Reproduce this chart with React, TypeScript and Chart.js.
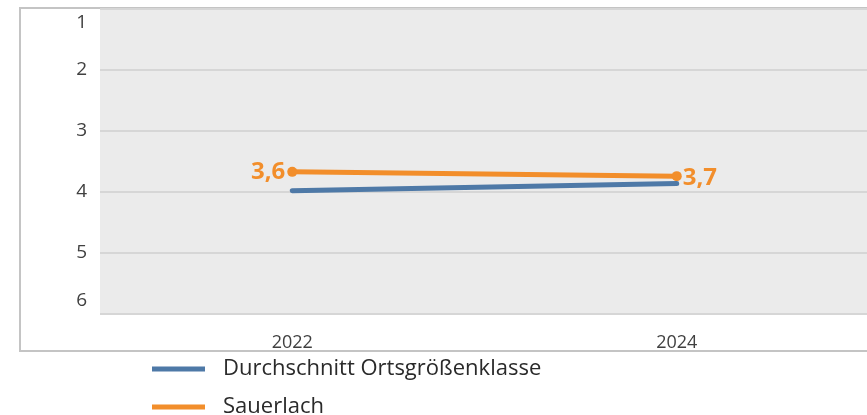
import React, { useEffect, useRef } from "react";
import { Chart, registerables } from "chart.js";

Chart.register(...registerables);

const categories = ["2022", "2024"];
const seriesNames = ["Durchschnitt Ortsgrößenklasse", "Sauerlach"];
const averageValues = [3.98, 3.86];
const sauerlachValues = [3.67, 3.74];
const sauerlachLabels = ["3,6", "3,7"];
const yTicks = [1, 2, 3, 4, 5, 6];

const BLUE = "#4E79A7";
const ORANGE = "#F28E2B";
const FONT = "'Open Sans', sans-serif";

const framePlugin = {
  id: "framePlugin",
  beforeDraw(chart: any) {
    const { ctx, chartArea } = chart;
    ctx.save();
    ctx.fillStyle = "#EBEBEB";
    ctx.fillRect(chartArea.left, chartArea.top, chartArea.right - chartArea.left, chartArea.bottom - chartArea.top);
    ctx.strokeStyle = "#C4C4C4";
    ctx.lineWidth = 2;
    ctx.strokeRect(20, 8, 900, 343);
    ctx.restore();
  },
  afterDraw(chart: any) {
    const { ctx } = chart;
    const y = chart.scales.y;
    ctx.save();
    ctx.font = `19px ${FONT}`;
    ctx.fillStyle = "#404040";
    ctx.textAlign = "right";
    ctx.textBaseline = "middle";
    yTicks.forEach((v, i) => {
      let py = y.getPixelForValue(v);
      if (i === 0) py += 14;
      if (i === yTicks.length - 1) py -= 13;
      ctx.fillText(String(v), 87, py);
    });
    const meta = chart.getDatasetMeta(1);
    ctx.font = `bold 24px ${FONT}`;
    ctx.fillStyle = ORANGE;
    meta.data.forEach((pt: any, i: number) => {
      if (i === 0) {
        ctx.textAlign = "right";
        ctx.fillText(sauerlachLabels[i], pt.x - 7, pt.y);
      } else {
        ctx.textAlign = "left";
        ctx.fillText(sauerlachLabels[i], pt.x + 6, pt.y + 2);
      }
    });
    ctx.font = `22px ${FONT}`;
    ctx.textAlign = "left";
    chart.data.datasets.forEach((ds: any, i: number) => {
      const ly = 369 + i * 38;
      ctx.strokeStyle = ds.borderColor;
      ctx.lineWidth = 5;
      ctx.lineCap = "butt";
      ctx.beginPath();
      ctx.moveTo(152, ly);
      ctx.lineTo(205, ly);
      ctx.stroke();
      ctx.fillStyle = "#2a2a2a";
      ctx.fillText(ds.label, 223, ly);
    });
    ctx.restore();
  },
};

export default function App() {
  const ref = useRef<HTMLCanvasElement>(null);
  useEffect(() => {
    const chart = new Chart(ref.current!, {
      type: "line",
      data: {
        labels: categories,
        datasets: [
          {
            label: seriesNames[0],
            data: averageValues,
            borderColor: BLUE,
            backgroundColor: BLUE,
            borderWidth: 5,
            borderCapStyle: "round",
            pointRadius: 0,
          },
          {
            label: seriesNames[1],
            data: sauerlachValues,
            borderColor: ORANGE,
            backgroundColor: ORANGE,
            borderWidth: 5,
            borderCapStyle: "round",
            pointRadius: 5,
            pointBorderWidth: 0,
          },
        ],
      },
      options: {
        animation: false,
        responsive: false,
        layout: { padding: { left: 0, top: 9, right: 0, bottom: 64 } },
        plugins: { legend: { display: false }, tooltip: { enabled: false } },
        scales: {
          x: {
            offset: true,
            grid: { display: false },
            border: { display: false },
            ticks: { color: "#404040", font: { family: FONT, size: 18 }, padding: 10 },
            afterFit: (s: any) => { s.height = 37; },
          },
          y: {
            min: 1,
            max: 6,
            reverse: true,
            grid: { color: "#D6D6D6", lineWidth: 2, drawTicks: false },
            border: { display: false },
            ticks: { display: false, stepSize: 1 },
            afterFit: (s: any) => { s.width = 100; },
          },
        },
      },
      plugins: [framePlugin],
    } as any);
    return () => chart.destroy();
  }, []);
  return (
    <div style={{ position: "fixed", left: 0, top: 0, width: 867, height: 415, overflow: "hidden", background: "#fff" }}>
      <canvas ref={ref} width={874} height={415} style={{ display: "block" }} />
    </div>
  );
}
